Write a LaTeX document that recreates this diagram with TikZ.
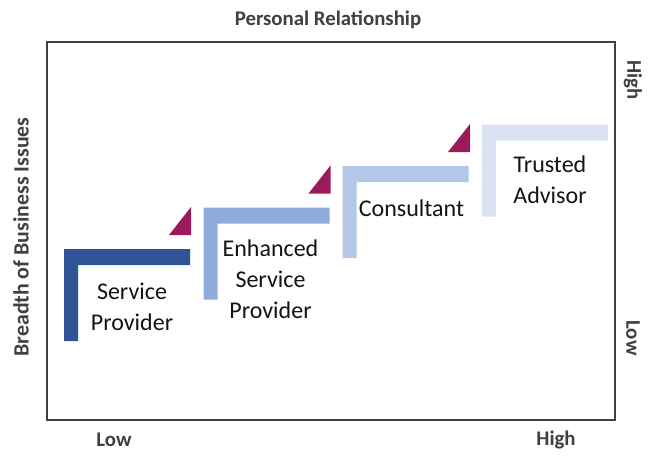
\documentclass[tikz,border=0pt]{standalone}
\usepackage{fontspec}
\setmainfont{Carlito}
\definecolor{axisgray}{HTML}{404040}
\definecolor{stepA}{HTML}{2F5597}
\definecolor{stepB}{HTML}{8FAADC}
\definecolor{stepC}{HTML}{B4C7E7}
\definecolor{stepD}{HTML}{DAE3F3}
\definecolor{tri}{HTML}{9B1B5A}
\begin{document}
\begin{tikzpicture}[x=0.75pt,y=-0.75pt,
  axislabel/.style={font=\fontsize{15.6}{18}\selectfont\bfseries, text=axisgray, inner sep=0pt},
  steplabel/.style={font=\fontsize{18}{23.4}\selectfont, text=black!92, align=center, inner sep=0pt},
  frame/.style={draw=axisgray, line width=1.2pt}]
\useasboundingbox (0,0) rectangle (656,465);
\fill[white] (0,0) rectangle (656,465);
\draw[frame] (47,42) rectangle (615,420);
% steps: L shapes (x0,y0) top-left, width 126, height 92
\newcommand{\stepL}[3]{%
  \fill[#3] (#1,#2) -- ++(126,0) -- ++(0,16) -- ++(-112,0) -- ++(0,76) -- ++(-14,0) -- cycle;}
\newcommand{\stepT}[2]{%
  \fill[tri] (#1,#2) -- ++(0,-28) -- ++(-22,28) -- cycle;}
\stepL{64}{249}{stepA}
\stepL{203.5}{207.5}{stepB}
\stepL{342.5}{166}{stepC}
\stepL{482}{124.5}{stepD}
\stepT{191}{235}
\stepT{330.5}{193.5}
\stepT{470}{152}
% labels
\node[steplabel] (sp) at (132,307) {Service\\Provider};
\node[steplabel] (esp) at (270.5,279) {Enhanced\\Service\\Provider};
\node[steplabel] (con) at (411.5,208) {Consultant};
\node[steplabel] (ta) at (550,180) {Trusted\\Advisor};
% axes labels
\node[axislabel] (top) at (328,20) {Personal Relationship};
\node[axislabel] (xlow) at (114,440) {Low};
\node[axislabel] (xhigh) at (556,440) {High};
\node[axislabel, rotate=-90] (yhigh) at (633,80) {High};
\node[axislabel, rotate=-90] (ylow) at (633,338) {Low};
\node[axislabel, rotate=90, font=\fontsize{16.4}{19}\selectfont\bfseries] (ytitle) at (21,237) {Breadth of Business Issues};
\end{tikzpicture}
\end{document}
